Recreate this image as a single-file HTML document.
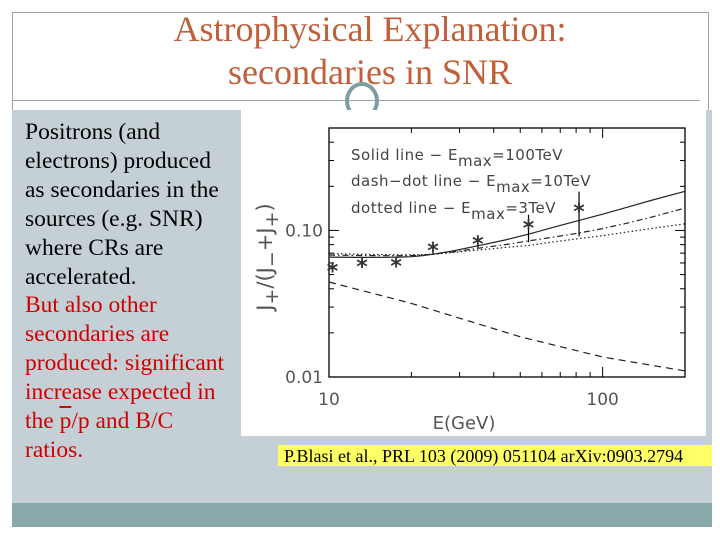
<!DOCTYPE html>
<html><head><meta charset="utf-8"><style>
body{margin:0;width:720px;height:540px;background:#fff;position:relative;overflow:hidden;font-family:"Liberation Serif",serif}
.abs{position:absolute}
</style></head><body>
<div class="abs" style="left:12px;top:12px;width:695px;height:512px;border:1px solid #9aa8aa;"></div>
<div class="abs" style="left:10px;top:8px;width:720px;text-align:center;color:#c0603a;font-size:36px;line-height:43px;">Astrophysical Explanation:<br>secondaries in SNR</div>
<div class="abs" style="left:12px;top:100px;width:688px;height:1px;background:#9aa8aa"></div>
<div class="abs" style="left:12px;top:110px;width:700px;height:393px;background:#c5d0d6"></div>
<div class="abs" style="left:12px;top:503px;width:700px;height:24px;background:#89a8aa"></div>
<div class="abs" style="left:345px;top:82px;width:26px;height:30px;border:4px solid #7c9ea0;border-radius:50%;"></div>
<div class="abs" style="left:338px;top:110px;width:45px;height:8px;background:#c5d0d6"></div>
<div class="abs" style="left:25px;top:118px;white-space:nowrap;font-size:23.5px;line-height:28.9px;color:#000;">Positrons (and<br>electrons) produced<br>as secondaries in the<br>sources (e.g. SNR)<br>where CRs are<br>accelerated.<br><span style="color:#d00000">But also other<br>secondaries are<br>produced: significant<br>increase expected in<br>the <span style="text-decoration:overline">p</span>/p and B/C<br>ratios.</span></div>
<div class="abs" style="left:241px;top:110px;width:465px;height:326px;background:#fff"></div>
<div class="abs" style="left:278px;top:445px;width:434px;height:21px;background:#ffff66;font-size:18px;line-height:22px;padding-left:6px;box-sizing:border-box;white-space:nowrap">P.Blasi et al., PRL 103 (2009) 051104 arXiv:0903.2794</div>
<svg class="abs" style="left:0;top:0" width="720" height="540" font-family="DejaVu Sans, Liberation Sans, sans-serif">
<g id="g"></g>
</svg>
<script>
const xMin=10,xMax=200,yMin=0.01,yMax=0.5;
const dataE=[10.3,13.2,17.6,24,35,53.6,82];
const dataR=[0.0543,0.0583,0.0587,0.0746,0.083,0.106,0.138];
const errHi=[0.0555,0.0595,0.0600,0.080,0.091,0.128,0.184];
const errLo=[0.0531,0.0571,0.0574,0.069,0.076,0.083,0.091];
const curveE=[10,13,16,18,20,22,24,28,35,44,54,66,82,100,120,150,200];
const solid=[0.0658,0.0655,0.0656,0.0658,0.0662,0.0672,0.0688,0.0722,0.0785,0.086,0.0947,0.105,0.117,0.129,0.142,0.160,0.185];
const dashDot=[0.068,0.0675,0.0672,0.0672,0.0675,0.068,0.0688,0.0712,0.0755,0.080,0.085,0.090,0.096,0.103,0.111,0.123,0.142];
const dotted=[0.0695,0.0688,0.0684,0.0682,0.0682,0.0684,0.0688,0.0705,0.0735,0.0765,0.079,0.0835,0.088,0.092,0.097,0.103,0.111];
const dashedE=[10,20,50,100,200];
const dashed=[0.0445,0.0318,0.0188,0.0137,0.0110];
const xTicks=[10,100];const xTickLabels=["10","100"];
const yTicks=[0.01,0.1];const yTickLabels=["0.01","0.10"];
const L=329,R=685,T=128,B=377;
const X=v=>L+(Math.log10(v)-Math.log10(xMin))/(Math.log10(xMax)-Math.log10(xMin))*(R-L);
const Y=v=>B-(Math.log10(v)-Math.log10(yMin))/(Math.log10(yMax)-Math.log10(yMin))*(B-T);
const g=document.getElementById('g');const NS='http://www.w3.org/2000/svg';
function mk(t,a){const e=document.createElementNS(NS,t);for(const k in a)e.setAttribute(k,a[k]);g.appendChild(e);return e;}
let e=mk('rect',{x:L,y:T,width:R-L,height:B-T,fill:'none',stroke:'#000','stroke-width':1.3});

for(let d=10;d<=200;d+=(d<100?10:100)){const x=X(d),len=(d===10||d===100)?10:5;
 e=mk('line',{x1:x,x2:x,y1:B,y2:B-len,stroke:'#000'});
 e=mk('line',{x1:x,x2:x,y1:T,y2:T+len,stroke:'#000'});}
for(let d=0.01;d<=0.5001;d+=(d<0.0999?0.01:0.1)){const y=Y(d),m=Math.abs(d-0.01)<1e-6||Math.abs(d-0.1)<1e-6,len=m?10:5;
 e=mk('line',{x1:L,x2:L+len,y1:y,y2:y,stroke:'#000'});
 e=mk('line',{x1:R,x2:R-len,y1:y,y2:y,stroke:'#000'});}
xTicks.forEach((v,i)=>{e=mk('text',{x:X(v),y:405,'text-anchor':'middle','font-size':17,fill:'#555'});e.textContent=xTickLabels[i];});
yTicks.forEach((v,i)=>{e=mk('text',{x:L-6,y:Y(v)+6,'text-anchor':'end','font-size':17,fill:'#555'});e.textContent=yTickLabels[i];});
e=mk('text',{x:464,y:429,'text-anchor':'middle','font-size':18,fill:'#555'});e.textContent='E(GeV)';
e=mk('text',{x:0,y:0,'text-anchor':'middle','font-size':21,fill:'#555',transform:'translate(272,257) rotate(-90)'});
e.innerHTML='J<tspan dy="6" font-size="19">+</tspan><tspan dy="-6">/(J</tspan><tspan dy="6" font-size="19">−</tspan><tspan dy="-6">+J</tspan><tspan dy="6" font-size="19">+</tspan><tspan dy="-6">)</tspan>';

function line(xs,ys,dash,name){const p=xs.map((x,i)=>(i?'L':'M')+X(x).toFixed(1)+','+Y(ys[i]).toFixed(1)).join('');
 const el=mk('path',{d:p,fill:'none',stroke:'#222','stroke-width':1.2,'stroke-dasharray':dash});}
line(curveE,solid,'none','solid-line-100tev');
line(curveE,dashDot,'6,3,1.5,3','dashdot-line-10tev');
line(curveE,dotted,'1.5,2.5','dotted-line-3tev');
line(dashedE,dashed,'7,5','dashed-line-primary');
dataE.forEach((v,i)=>{const x=X(v);
 e=mk('line',{x1:x,x2:x,y1:Y(errHi[i]),y2:Y(errLo[i]),stroke:'#000','stroke-width':1.2});
 e=mk('text',{x:x,y:Y(dataR[i])+9,'text-anchor':'middle','font-size':22,'font-weight':'bold',fill:'#333'});e.textContent='*';});
const leg=[['Solid line  −  E','=100TeV',160],['dash−dot line  −  E','=10TeV',186],['dotted line  −  E','=3TeV',213]];
leg.forEach(l=>{e=mk('text',{x:351,y:l[2],'font-size':15,fill:'#444','letter-spacing':0.5,'xml:space':'preserve'});e.innerHTML=l[0]+'<tspan dy="6">max</tspan><tspan dy="-6">'+l[1]+'</tspan>';});
</script>
</body></html>
